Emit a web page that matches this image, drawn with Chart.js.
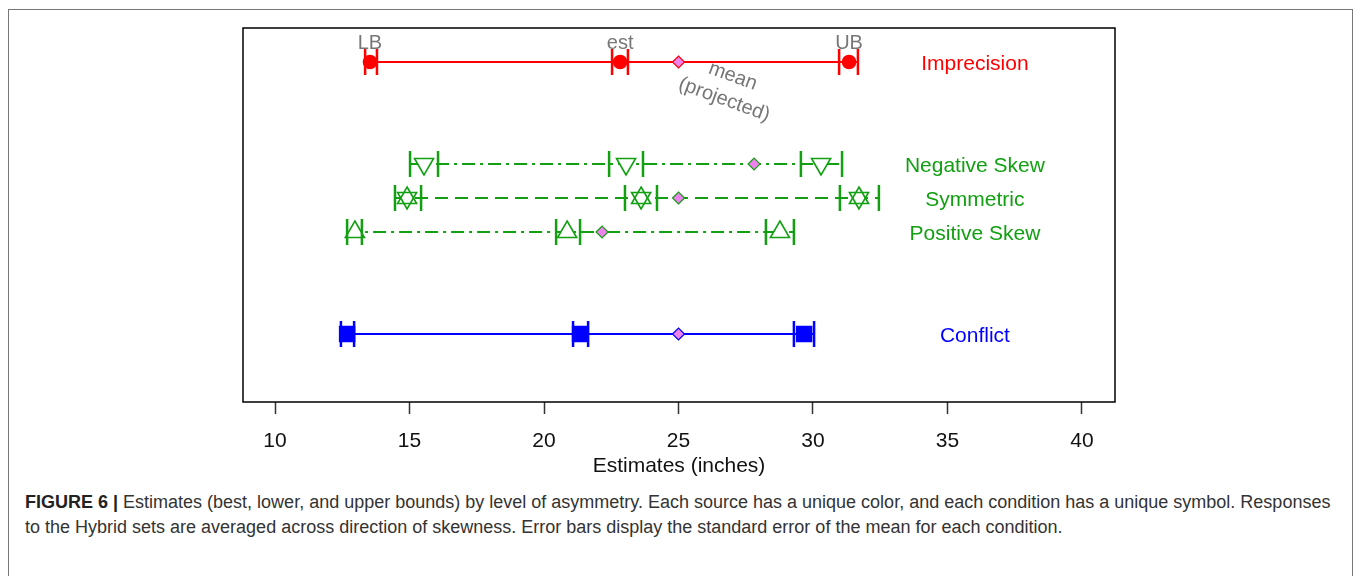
<!DOCTYPE html>
<html>
<head>
<meta charset="utf-8">
<script src="https://cdn.jsdelivr.net/npm/chart.js@4.4.1/dist/chart.umd.min.js"></script>
<style>
  html, body { margin:0; padding:0; background:#fff; width:1357px; height:576px; overflow:hidden; }
  #wrap { position:absolute; left:0; top:0; width:1357px; height:480px; }
  #frame { position:absolute; left:8px; top:9px; width:1345px; height:600px; border:1.5px solid #777; box-sizing:border-box; pointer-events:none; }
  #caption { position:absolute; left:25px; top:490px; width:1320px; font-family:"Liberation Sans", Arial, sans-serif; font-size:18px; line-height:25px; color:#333; white-space:nowrap; }
  #caption b { font-weight:bold; color:#222; }
</style>
</head>
<body>
<div id="frame"></div>
<div id="wrap"><canvas id="c" width="1357" height="480"></canvas></div>
<div id="caption"><b>FIGURE 6 |</b> Estimates (best, lower, and upper bounds) by level of asymmetry. Each source has a unique color, and each condition has a unique symbol. Responses<br>to the Hybrid sets are averaged across direction of skewness. Error bars display the standard error of the mean for each condition.</div>
<script>
// ---- data ----
const rows     = ['Imprecision', 'Negative Skew', 'Symmetric', 'Positive Skew', 'Conflict'];
const rowY     = [9, 6, 5, 4, 1];
const lbLow    = [13.35, 15.02, 14.46, 12.68, 12.45];
const lbEst    = [13.53, 15.54, 14.91, 12.97, 12.68];
const lbHigh   = [13.79, 16.06, 15.43, 13.23, 12.94];
const estLow   = [22.53, 22.42, 23.01, 20.45, 21.08];
const estVal   = [22.83, 23.05, 23.61, 20.86, 21.34];
const estHigh  = [23.12, 23.68, 24.20, 21.34, 21.64];
const ubLow    = [30.97, 29.55, 31.00, 28.25, 29.29];
const ubVal    = [31.34, 30.30, 31.71, 28.77, 29.67];
const ubHigh   = [31.67, 31.08, 32.45, 29.29, 30.04];
const meanVal  = [25.00, 27.81, 25.00, 22.16, 25.00];
const xTicks   = [10, 15, 20, 25, 30, 35, 40];
const pointLabels = ['LB', 'est', 'UB'];
const meanLabel = ['mean', '(projected)'];
const xTitle = 'Estimates (inches)';

// ---- styles ----
const RED = '#ff0000', GREEN = '#12a012', BLUE = '#0000ff', VIOLET = '#ee82ee', GRAY = '#777777';
const rowColor = [RED, GREEN, GREEN, GREEN, BLUE];
const rowDash  = [[], [13, 5, 3, 5], [13, 7], [13, 5, 3, 5], []];
const FONT = '"Liberation Sans", Arial, sans-serif';
const markerStyles = [
  [{ pointStyle: 'circle', radius: 6.5, fill: RED, rotation: 0 }],
  [{ pointStyle: 'triangle', radius: 11, fill: '#ffffff', rotation: 180 }],
  [{ pointStyle: 'triangle', radius: 11, fill: '#ffffff', rotation: 0 },
   { pointStyle: 'triangle', radius: 11, fill: 'rgba(0,0,0,0)', rotation: 180 }],
  [{ pointStyle: 'triangle', radius: 11, fill: '#ffffff', rotation: 0 }],
  [{ pointStyle: 'rect', radius: 10.5, fill: BLUE, rotation: 0 }]
];

const datasets = [];
rows.forEach((name, i) => {
  const y = rowY[i], col = rowColor[i];
  datasets.push({
    label: name + ' line', order: 10,
    data: [{ x: lbLow[i], y }, { x: ubHigh[i], y }],
    showLine: true, borderColor: col, borderWidth: 2.2, borderDash: rowDash[i],
    pointRadius: 0, fill: false
  });
  markerStyles[i].forEach((m, k) => {
    datasets.push({
      label: name + ' markers ' + k, order: 8 - k,
      data: [{ x: lbEst[i], y }, { x: estVal[i], y }, { x: ubVal[i], y }],
      showLine: false, pointStyle: m.pointStyle, pointRadius: m.radius, pointRotation: m.rotation,
      pointBackgroundColor: m.fill, pointBorderColor: col, pointBorderWidth: 1.6
    });
  });
  datasets.push({
    label: name + ' caps', order: 4,
    data: [lbLow[i], lbHigh[i], estLow[i], estHigh[i], ubLow[i], ubHigh[i]].map(v => ({ x: v, y })),
    showLine: false, pointStyle: 'line', pointRadius: 13, pointRotation: 90,
    pointBorderColor: col, pointBorderWidth: 2.5
  });
  datasets.push({
    label: name + ' mean', order: 1,
    data: [{ x: meanVal[i], y }],
    showLine: false, pointStyle: 'rectRot', pointRadius: 6,
    pointBackgroundColor: VIOLET, pointBorderColor: col, pointBorderWidth: 1.2
  });
});

const annot = {
  id: 'annot',
  afterDraw(chart) {
    const { ctx, chartArea: a, scales: { x, y } } = chart;
    ctx.save();
    // plot box
    ctx.strokeStyle = '#000'; ctx.lineWidth = 1.5;
    ctx.strokeRect(a.left, a.top, a.right - a.left, a.bottom - a.top);
    // LB / est / UB labels
    ctx.fillStyle = GRAY; ctx.font = '20px ' + FONT;
    ctx.textAlign = 'center'; ctx.textBaseline = 'middle';
    const py = y.getPixelForValue(rowY[0]);
    [lbEst[0], estVal[0], ubVal[0]].forEach((v, k) => {
      ctx.fillText(pointLabels[k], x.getPixelForValue(v), py - 19);
    });
    // mean (projected)
    ctx.save();
    ctx.translate(x.getPixelForValue(meanVal[0]) + 50, py + 26);
    ctx.rotate(20 * Math.PI / 180);
    ctx.fillText(meanLabel[0], 0, -12.5);
    ctx.fillText(meanLabel[1], 0, 12.5);
    ctx.restore();
    // row labels
    ctx.font = '21px ' + FONT;
    rows.forEach((name, i) => {
      ctx.fillStyle = rowColor[i];
      ctx.fillText(name, x.getPixelForValue(36.02), y.getPixelForValue(rowY[i]) + 2);
    });
    ctx.restore();
  }
};

new Chart(document.getElementById('c'), {
  type: 'scatter',
  data: { datasets },
  options: {
    responsive: false, animation: false, devicePixelRatio: 1,
    layout: { padding: { left: 243, right: 242, top: 28, bottom: 0 } },
    plugins: { legend: { display: false }, tooltip: { enabled: false } },
    elements: { line: { tension: 0 } },
    scales: {
      x: {
        type: 'linear', min: 8.81, max: 41.227,
        afterBuildTicks: s => { s.ticks = xTicks.map(v => ({ value: v })); },
        afterFit: s => { s.height = 78; },
        border: { display: false },
        grid: { drawOnChartArea: false, drawTicks: true, tickLength: 12, tickColor: '#333', tickWidth: 1.5 },
        ticks: { color: '#111', padding: 15, font: { size: 21, family: FONT } },
        title: { display: true, text: xTitle, color: '#111', font: { size: 21, family: FONT, lineHeight: 1.2 }, padding: { top: 0, bottom: 1 } }
      },
      y: { display: false, min: -1, max: 10 }
    }
  },
  plugins: [annot]
});
</script>
</body>
</html>
